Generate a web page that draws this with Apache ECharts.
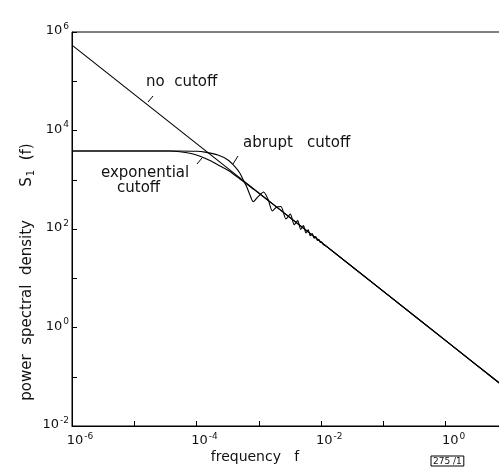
<!DOCTYPE html>
<html>
<head>
<meta charset="utf-8">
<script src="https://cdn.jsdelivr.net/npm/echarts@6/dist/echarts.min.js"></script>
<style>
  html, body { margin: 0; padding: 0; background: #fff; }
  #chart { width: 499px; height: 475px; }
</style>
</head>
<body>
<div id="chart"></div>
<script>
// frequency f, power spectral density S1(f)
var noCutoff = [[1e-6, 5.4e5], [1e-4, 5400], [1e-2, 54], [1, 0.54], [10, 0.054]];

var expCutoff = [
  [1e-6, 3840], [1e-5, 3840], [2e-5, 3840], [3.7e-5, 3830], [5.4e-5, 3700],
  [7.8e-5, 3440], [1.14e-4, 2990], [1.64e-4, 2460], [2.38e-4, 1900], [3.44e-4, 1470],
  [4.97e-4, 1035], [8.6e-4, 615], [2e-3, 268], [1e-2, 54], [1, 0.54], [10, 0.054]
];

var abruptCutoff = [
  [1e-6, 3840], [1e-5, 3840], [5e-5, 3840], [1e-4, 3790], [1.36e-4, 3640],
  [2.2e-4, 3170], [3.19e-4, 2520], [4.13e-4, 1840], [4.97e-4, 1350], [5.62e-4, 990],
  [6.37e-4, 723], [7.2e-4, 490], [8.13e-4, 358], [9.7e-4, 453], [1.19e-3, 564],
  [1.4e-3, 406], [1.65e-3, 232], [1.93e-3, 280], [2.26e-3, 286], [2.72e-3, 160],
  [3.2e-3, 200], [3.7e-3, 122], [4.2e-3, 148], [4.7e-3, 98], [5.2e-3, 117],
  [5.7e-3, 83], [6.2e-3, 96], [6.7e-3, 73], [7.2e-3, 81], [7.7e-3, 65],
  [8.2e-3, 70], [8.7e-3, 58.5], [9.2e-3, 61.5], [9.7e-3, 53.5], [1.02e-2, 54.8],
  [1.07e-2, 49], [1.2e-2, 45], [0.1, 5.4], [1, 0.54], [10, 0.054]
];

// labelled decades (others get a bare tick)
var xTickLabels = [-6, -4, -2, 0];
var yTickLabels = [-2, 0, 2, 4, 6];

var FONT = "DejaVu Sans";
var INK = "#111";

function powerLabel(list) {
  return function(value) {
    var e = Math.round(Math.log10(value));
    if (list.indexOf(e) < 0) {
      return "";
    }
    return "{b|10}{s|" + e + "}";
  };
}

var tickRich = {
  b: { fontSize: 13, fontFamily: FONT, color: INK },
  s: { fontSize: 9, fontFamily: FONT, color: INK, padding: [0, 0, 9, 1] }
};

function lineSeries(name, data, smooth) {
  return {
    name: name,
    type: "line",
    data: data,
    showSymbol: false,
    smooth: smooth,
    animation: false,
    lineStyle: { color: "#000", width: 1.1 }
  };
}

function text(x, y, str) {
  return {
    type: "text",
    left: x,
    top: y,
    style: { text: str, fontSize: 15, fontFamily: FONT, fill: INK }
  };
}

function leader(x1, y1, x2, y2) {
  return {
    type: "line",
    shape: { x1: x1, y1: y1, x2: x2, y2: y2 },
    style: { stroke: "#000", lineWidth: 1 }
  };
}

var chart = echarts.init(document.getElementById("chart"), null, { renderer: "canvas" });

chart.setOption({
  animation: false,
  grid: {
    left: 72,
    top: 32,
    width: 436,
    height: 394,
    outerBoundsMode: "none",
    containLabel: false,
    show: true,
    borderColor: "#000",
    borderWidth: 1
  },
  xAxis: {
    type: "log",
    logBase: 10,
    min: 1e-6,
    max: 10,
    interval: 1,
    axisLine: { lineStyle: { color: "#000", width: 1 } },
    axisTick: { inside: true, length: 5, lineStyle: { color: "#000" } },
    splitLine: { show: false },
    axisLabel: {
      formatter: powerLabel(xTickLabels),
      rich: tickRich,
      margin: 6,
      padding: [0, 0, 0, 16]
    }
  },
  yAxis: {
    type: "log",
    logBase: 10,
    min: 1e-2,
    max: 1e6,
    interval: 1,
    axisLine: { lineStyle: { color: "#000", width: 1 } },
    axisTick: { inside: true, length: 5, lineStyle: { color: "#000" } },
    splitLine: { show: false },
    axisLabel: {
      formatter: powerLabel(yTickLabels),
      rich: tickRich,
      margin: 3,
      padding: [0, 0, 2, 0]
    }
  },
  series: [
    lineSeries("no cutoff", noCutoff, false),
    lineSeries("exponential cutoff", expCutoff, 0.25),
    lineSeries("abrupt cutoff", abruptCutoff, 0.25)
  ],
  graphic: [
    text(146, 75, "no  cutoff"),
    leader(148, 102, 153, 96),
    text(243, 136, "abrupt   cutoff"),
    leader(233, 164, 238, 156),
    text(101, 166, "exponential"),
    text(117, 181, "cutoff"),
    leader(197, 164, 202, 158),
    {
      type: "text",
      x: 27,
      y: 272,
      rotation: Math.PI / 2,
      style: {
        text: "{n|power  spectral  density       S}{sub|1}{n|  (f)}",
        rich: {
          n: { fontSize: 15, fontFamily: FONT, fill: INK },
          sub: { fontSize: 10, fontFamily: FONT, fill: INK, padding: [8, 0, 0, 1] }
        },
        align: "center",
        verticalAlign: "middle"
      }
    },
    {
      type: "text",
      x: 255,
      y: 457,
      style: {
        text: "frequency   f",
        fontSize: 14,
        fontFamily: FONT,
        fill: INK,
        align: "center",
        verticalAlign: "middle"
      }
    },
    {
      type: "text",
      x: 431,
      y: 456,
      style: {
        text: "275 /1",
        fontSize: 9,
        fontFamily: FONT,
        fill: INK,
        borderColor: "#000",
        borderWidth: 1,
        padding: [1, 2, 0, 2]
      }
    }
  ]
});
</script>
</body>
</html>
